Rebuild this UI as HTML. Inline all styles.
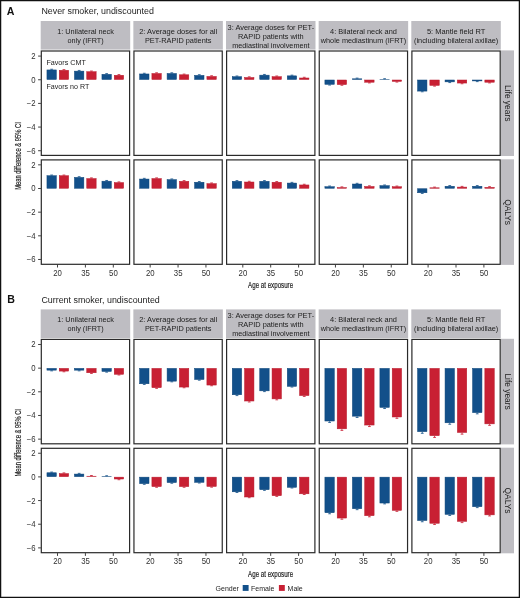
<!DOCTYPE html>
<html><head><meta charset="utf-8"><style>
html,body{margin:0;padding:0;background:#fff;}
svg{display:block;will-change:transform;}
text{font-family:"Liberation Sans", sans-serif;}
</style></head><body>
<svg width="520" height="598" viewBox="0 0 520 598">
<rect width="520" height="598" fill="#fff"/>
<text x="6.8" y="14.80" font-weight="bold" font-size="10.6" fill="#111">A</text>
<text x="41.4" y="14.10" font-size="8.9" fill="#1c1c1c">Never smoker, undiscounted</text>
<rect x="40.70" y="21.00" width="89.50" height="28.60" fill="#bebdc2"/>
<text x="85.55" y="33.95" font-size="7.45" fill="#1c1c1c" text-anchor="middle" textLength="56.8" lengthAdjust="spacingAndGlyphs">1: Unilateral neck</text>
<text x="85.55" y="42.85" font-size="7.45" fill="#1c1c1c" text-anchor="middle" textLength="36.1" lengthAdjust="spacingAndGlyphs">only (IFRT)</text>
<rect x="133.35" y="21.00" width="89.50" height="28.60" fill="#bebdc2"/>
<text x="178.20" y="33.95" font-size="7.45" fill="#1c1c1c" text-anchor="middle" textLength="78.0" lengthAdjust="spacingAndGlyphs">2: Average doses for all</text>
<text x="178.20" y="42.85" font-size="7.45" fill="#1c1c1c" text-anchor="middle" textLength="66.6" lengthAdjust="spacingAndGlyphs">PET-RAPID patients</text>
<rect x="226.00" y="21.00" width="89.50" height="28.60" fill="#bebdc2"/>
<text x="270.85" y="29.80" font-size="7.45" fill="#1c1c1c" text-anchor="middle" textLength="86.6" lengthAdjust="spacingAndGlyphs">3: Average doses for PET-</text>
<text x="270.85" y="38.70" font-size="7.45" fill="#1c1c1c" text-anchor="middle" textLength="65.6" lengthAdjust="spacingAndGlyphs">RAPID patients with</text>
<text x="270.85" y="47.60" font-size="7.45" fill="#1c1c1c" text-anchor="middle" textLength="77.3" lengthAdjust="spacingAndGlyphs">mediastinal involvement</text>
<rect x="318.65" y="21.00" width="89.50" height="28.60" fill="#bebdc2"/>
<text x="363.50" y="33.95" font-size="7.45" fill="#1c1c1c" text-anchor="middle" textLength="66.8" lengthAdjust="spacingAndGlyphs">4: Bilateral neck and</text>
<text x="363.50" y="42.85" font-size="7.45" fill="#1c1c1c" text-anchor="middle" textLength="85.4" lengthAdjust="spacingAndGlyphs">whole mediastinum (IFRT)</text>
<rect x="411.30" y="21.00" width="89.50" height="28.60" fill="#bebdc2"/>
<text x="456.15" y="33.95" font-size="7.45" fill="#1c1c1c" text-anchor="middle" textLength="58.5" lengthAdjust="spacingAndGlyphs">5: Mantle field RT</text>
<text x="456.15" y="42.85" font-size="7.45" fill="#1c1c1c" text-anchor="middle" textLength="84.2" lengthAdjust="spacingAndGlyphs">(including bilateral axillae)</text>
<rect x="501.0" y="50.40" width="13.0" height="105.60" fill="#bebdc2"/>
<text transform="translate(504.6,103.20) rotate(90)" x="0" y="0" font-size="8.4" fill="#1c1c1c" text-anchor="middle">Life years</text>
<rect x="41.30" y="51.00" width="88.30" height="104.40" fill="#fff" stroke="#2a2a2a" stroke-width="1.2"/>
<rect x="46.95" y="69.94" width="9.40" height="9.56" fill="#12508a" stroke="#0c4478" stroke-width="0.5"/>
<path d="M51.65 69.69V69.24M50.25 69.24H53.05" stroke="#12508a" stroke-width="0.8" fill="none"/>
<rect x="59.25" y="70.30" width="9.40" height="9.20" fill="#c82033" stroke="#b81a2c" stroke-width="0.5"/>
<path d="M63.95 70.05V69.60M62.55 69.60H65.35" stroke="#c82033" stroke-width="0.8" fill="none"/>
<rect x="74.45" y="71.13" width="9.40" height="8.37" fill="#12508a" stroke="#0c4478" stroke-width="0.5"/>
<path d="M79.15 70.88V70.43M77.75 70.43H80.55" stroke="#12508a" stroke-width="0.8" fill="none"/>
<rect x="86.75" y="71.72" width="9.40" height="7.78" fill="#c82033" stroke="#b81a2c" stroke-width="0.5"/>
<path d="M91.45 71.47V71.02M90.05 71.02H92.85" stroke="#c82033" stroke-width="0.8" fill="none"/>
<rect x="101.95" y="74.32" width="9.40" height="5.18" fill="#12508a" stroke="#0c4478" stroke-width="0.5"/>
<path d="M106.65 74.07V73.62M105.25 73.62H108.05" stroke="#12508a" stroke-width="0.8" fill="none"/>
<rect x="114.25" y="75.27" width="9.40" height="4.23" fill="#c82033" stroke="#b81a2c" stroke-width="0.5"/>
<path d="M118.95 75.02V74.57M117.55 74.57H120.35" stroke="#c82033" stroke-width="0.8" fill="none"/>
<path d="M38.1 56.09H40.90" stroke="#2a2a2a" stroke-width="0.9"/>
<text transform="translate(35.6,59.04) scale(0.94,1)" font-size="8.3" fill="#303030" text-anchor="end">2</text>
<path d="M38.1 79.75H40.90" stroke="#2a2a2a" stroke-width="0.9"/>
<text transform="translate(35.6,82.70) scale(0.94,1)" font-size="8.3" fill="#303030" text-anchor="end">0</text>
<path d="M38.1 103.41H40.90" stroke="#2a2a2a" stroke-width="0.9"/>
<text transform="translate(35.6,106.36) scale(0.94,1)" font-size="8.3" fill="#303030" text-anchor="end">−2</text>
<path d="M38.1 127.07H40.90" stroke="#2a2a2a" stroke-width="0.9"/>
<text transform="translate(35.6,130.02) scale(0.94,1)" font-size="8.3" fill="#303030" text-anchor="end">−4</text>
<path d="M38.1 150.73H40.90" stroke="#2a2a2a" stroke-width="0.9"/>
<text transform="translate(35.6,153.68) scale(0.94,1)" font-size="8.3" fill="#303030" text-anchor="end">−6</text>
<rect x="133.95" y="51.00" width="88.30" height="104.40" fill="#fff" stroke="#2a2a2a" stroke-width="1.2"/>
<rect x="139.60" y="73.97" width="9.40" height="5.53" fill="#12508a" stroke="#0c4478" stroke-width="0.5"/>
<path d="M144.30 73.72V73.27M142.90 73.27H145.70" stroke="#12508a" stroke-width="0.8" fill="none"/>
<rect x="151.90" y="73.49" width="9.40" height="6.01" fill="#c82033" stroke="#b81a2c" stroke-width="0.5"/>
<path d="M156.60 73.24V72.79M155.20 72.79H158.00" stroke="#c82033" stroke-width="0.8" fill="none"/>
<rect x="167.10" y="73.49" width="9.40" height="6.01" fill="#12508a" stroke="#0c4478" stroke-width="0.5"/>
<path d="M171.80 73.24V72.79M170.40 72.79H173.20" stroke="#12508a" stroke-width="0.8" fill="none"/>
<rect x="179.40" y="74.79" width="9.40" height="4.71" fill="#c82033" stroke="#b81a2c" stroke-width="0.5"/>
<path d="M184.10 74.54V74.09M182.70 74.09H185.50" stroke="#c82033" stroke-width="0.8" fill="none"/>
<rect x="194.60" y="75.39" width="9.40" height="4.11" fill="#12508a" stroke="#0c4478" stroke-width="0.5"/>
<path d="M199.30 75.14V74.69M197.90 74.69H200.70" stroke="#12508a" stroke-width="0.8" fill="none"/>
<rect x="206.90" y="76.45" width="9.40" height="3.05" fill="#c82033" stroke="#b81a2c" stroke-width="0.5"/>
<path d="M211.60 76.20V75.75M210.20 75.75H213.00" stroke="#c82033" stroke-width="0.8" fill="none"/>
<rect x="226.60" y="51.00" width="88.30" height="104.40" fill="#fff" stroke="#2a2a2a" stroke-width="1.2"/>
<rect x="232.25" y="76.69" width="9.40" height="2.81" fill="#12508a" stroke="#0c4478" stroke-width="0.5"/>
<path d="M236.95 76.44V75.99M235.55 75.99H238.35" stroke="#12508a" stroke-width="0.8" fill="none"/>
<rect x="244.55" y="77.52" width="9.40" height="1.98" fill="#c82033" stroke="#b81a2c" stroke-width="0.5"/>
<path d="M249.25 77.27V76.82M247.85 76.82H250.65" stroke="#c82033" stroke-width="0.8" fill="none"/>
<rect x="259.75" y="75.15" width="9.40" height="4.35" fill="#12508a" stroke="#0c4478" stroke-width="0.5"/>
<path d="M264.45 74.90V74.45M263.05 74.45H265.85" stroke="#12508a" stroke-width="0.8" fill="none"/>
<rect x="272.05" y="76.69" width="9.40" height="2.81" fill="#c82033" stroke="#b81a2c" stroke-width="0.5"/>
<path d="M276.75 76.44V75.99M275.35 75.99H278.15" stroke="#c82033" stroke-width="0.8" fill="none"/>
<rect x="287.25" y="75.86" width="9.40" height="3.64" fill="#12508a" stroke="#0c4478" stroke-width="0.5"/>
<path d="M291.95 75.61V75.16M290.55 75.16H293.35" stroke="#12508a" stroke-width="0.8" fill="none"/>
<rect x="299.55" y="77.99" width="9.40" height="1.51" fill="#c82033" stroke="#b81a2c" stroke-width="0.5"/>
<path d="M304.25 77.74V77.29M302.85 77.29H305.65" stroke="#c82033" stroke-width="0.8" fill="none"/>
<rect x="319.25" y="51.00" width="88.30" height="104.40" fill="#fff" stroke="#2a2a2a" stroke-width="1.2"/>
<rect x="324.90" y="80.00" width="9.40" height="4.35" fill="#12508a" stroke="#0c4478" stroke-width="0.5"/>
<path d="M329.60 84.60V85.05M328.20 85.05H331.00" stroke="#12508a" stroke-width="0.8" fill="none"/>
<rect x="337.20" y="80.00" width="9.40" height="4.59" fill="#c82033" stroke="#b81a2c" stroke-width="0.5"/>
<path d="M341.90 84.84V85.29M340.50 85.29H343.30" stroke="#c82033" stroke-width="0.8" fill="none"/>
<rect x="352.40" y="78.82" width="9.40" height="0.68" fill="#12508a" stroke="#0c4478" stroke-width="0.5"/>
<path d="M357.10 78.57V78.12M355.70 78.12H358.50" stroke="#12508a" stroke-width="0.8" fill="none"/>
<rect x="364.70" y="80.00" width="9.40" height="2.22" fill="#c82033" stroke="#b81a2c" stroke-width="0.5"/>
<path d="M369.40 82.47V82.92M368.00 82.92H370.80" stroke="#c82033" stroke-width="0.8" fill="none"/>
<rect x="379.90" y="79.41" width="9.40" height="0.10" fill="#12508a" stroke="#0c4478" stroke-width="0.5"/>
<path d="M384.60 79.16V78.71M383.20 78.71H386.00" stroke="#12508a" stroke-width="0.8" fill="none"/>
<rect x="392.20" y="80.00" width="9.40" height="1.39" fill="#c82033" stroke="#b81a2c" stroke-width="0.5"/>
<path d="M396.90 81.64V82.09M395.50 82.09H398.30" stroke="#c82033" stroke-width="0.8" fill="none"/>
<rect x="411.90" y="51.00" width="88.30" height="104.40" fill="#fff" stroke="#2a2a2a" stroke-width="1.2"/>
<rect x="417.55" y="80.00" width="9.40" height="11.09" fill="#12508a" stroke="#0c4478" stroke-width="0.5"/>
<path d="M422.25 91.34V91.79M420.85 91.79H423.65" stroke="#12508a" stroke-width="0.8" fill="none"/>
<rect x="429.85" y="80.00" width="9.40" height="5.42" fill="#c82033" stroke="#b81a2c" stroke-width="0.5"/>
<path d="M434.55 85.67V86.12M433.15 86.12H435.95" stroke="#c82033" stroke-width="0.8" fill="none"/>
<rect x="445.05" y="80.00" width="9.40" height="1.87" fill="#12508a" stroke="#0c4478" stroke-width="0.5"/>
<path d="M449.75 82.12V82.57M448.35 82.57H451.15" stroke="#12508a" stroke-width="0.8" fill="none"/>
<rect x="457.35" y="80.00" width="9.40" height="3.05" fill="#c82033" stroke="#b81a2c" stroke-width="0.5"/>
<path d="M462.05 83.30V83.75M460.65 83.75H463.45" stroke="#c82033" stroke-width="0.8" fill="none"/>
<rect x="472.55" y="80.00" width="9.40" height="0.92" fill="#12508a" stroke="#0c4478" stroke-width="0.5"/>
<path d="M477.25 81.17V81.62M475.85 81.62H478.65" stroke="#12508a" stroke-width="0.8" fill="none"/>
<rect x="484.85" y="80.00" width="9.40" height="2.22" fill="#c82033" stroke="#b81a2c" stroke-width="0.5"/>
<path d="M489.55 82.47V82.92M488.15 82.92H490.95" stroke="#c82033" stroke-width="0.8" fill="none"/>
<rect x="501.0" y="159.30" width="13.0" height="105.60" fill="#bebdc2"/>
<text transform="translate(504.6,212.10) rotate(90)" x="0" y="0" font-size="8.4" fill="#1c1c1c" text-anchor="middle">QALYs</text>
<rect x="41.30" y="159.90" width="88.30" height="104.40" fill="#fff" stroke="#2a2a2a" stroke-width="1.2"/>
<rect x="46.95" y="175.74" width="9.40" height="12.51" fill="#12508a" stroke="#0c4478" stroke-width="0.5"/>
<path d="M51.65 175.49V175.04M50.25 175.04H53.05" stroke="#12508a" stroke-width="0.8" fill="none"/>
<rect x="59.25" y="175.74" width="9.40" height="12.51" fill="#c82033" stroke="#b81a2c" stroke-width="0.5"/>
<path d="M63.95 175.49V175.04M62.55 175.04H65.35" stroke="#c82033" stroke-width="0.8" fill="none"/>
<rect x="74.45" y="177.39" width="9.40" height="10.86" fill="#12508a" stroke="#0c4478" stroke-width="0.5"/>
<path d="M79.15 177.14V176.69M77.75 176.69H80.55" stroke="#12508a" stroke-width="0.8" fill="none"/>
<rect x="86.75" y="178.58" width="9.40" height="9.67" fill="#c82033" stroke="#b81a2c" stroke-width="0.5"/>
<path d="M91.45 178.33V177.88M90.05 177.88H92.85" stroke="#c82033" stroke-width="0.8" fill="none"/>
<rect x="101.95" y="181.18" width="9.40" height="7.07" fill="#12508a" stroke="#0c4478" stroke-width="0.5"/>
<path d="M106.65 180.93V180.48M105.25 180.48H108.05" stroke="#12508a" stroke-width="0.8" fill="none"/>
<rect x="114.25" y="182.60" width="9.40" height="5.65" fill="#c82033" stroke="#b81a2c" stroke-width="0.5"/>
<path d="M118.95 182.35V181.90M117.55 181.90H120.35" stroke="#c82033" stroke-width="0.8" fill="none"/>
<path d="M38.1 164.84H40.90" stroke="#2a2a2a" stroke-width="0.9"/>
<text transform="translate(35.6,167.79) scale(0.94,1)" font-size="8.3" fill="#303030" text-anchor="end">2</text>
<path d="M38.1 188.50H40.90" stroke="#2a2a2a" stroke-width="0.9"/>
<text transform="translate(35.6,191.45) scale(0.94,1)" font-size="8.3" fill="#303030" text-anchor="end">0</text>
<path d="M38.1 212.16H40.90" stroke="#2a2a2a" stroke-width="0.9"/>
<text transform="translate(35.6,215.11) scale(0.94,1)" font-size="8.3" fill="#303030" text-anchor="end">−2</text>
<path d="M38.1 235.82H40.90" stroke="#2a2a2a" stroke-width="0.9"/>
<text transform="translate(35.6,238.77) scale(0.94,1)" font-size="8.3" fill="#303030" text-anchor="end">−4</text>
<path d="M38.1 259.48H40.90" stroke="#2a2a2a" stroke-width="0.9"/>
<text transform="translate(35.6,262.43) scale(0.94,1)" font-size="8.3" fill="#303030" text-anchor="end">−6</text>
<path d="M57.50 264.70V267.50" stroke="#2a2a2a" stroke-width="0.9"/>
<text transform="translate(57.60,275.90) scale(0.94,1)" font-size="8.3" fill="#303030" text-anchor="middle">20</text>
<path d="M85.40 264.70V267.50" stroke="#2a2a2a" stroke-width="0.9"/>
<text transform="translate(85.50,275.90) scale(0.94,1)" font-size="8.3" fill="#303030" text-anchor="middle">35</text>
<path d="M113.30 264.70V267.50" stroke="#2a2a2a" stroke-width="0.9"/>
<text transform="translate(113.40,275.90) scale(0.94,1)" font-size="8.3" fill="#303030" text-anchor="middle">50</text>
<rect x="133.95" y="159.90" width="88.30" height="104.40" fill="#fff" stroke="#2a2a2a" stroke-width="1.2"/>
<rect x="139.60" y="179.05" width="9.40" height="9.20" fill="#12508a" stroke="#0c4478" stroke-width="0.5"/>
<path d="M144.30 178.80V178.35M142.90 178.35H145.70" stroke="#12508a" stroke-width="0.8" fill="none"/>
<rect x="151.90" y="178.58" width="9.40" height="9.67" fill="#c82033" stroke="#b81a2c" stroke-width="0.5"/>
<path d="M156.60 178.33V177.88M155.20 177.88H158.00" stroke="#c82033" stroke-width="0.8" fill="none"/>
<rect x="167.10" y="179.64" width="9.40" height="8.61" fill="#12508a" stroke="#0c4478" stroke-width="0.5"/>
<path d="M171.80 179.39V178.94M170.40 178.94H173.20" stroke="#12508a" stroke-width="0.8" fill="none"/>
<rect x="179.40" y="181.30" width="9.40" height="6.95" fill="#c82033" stroke="#b81a2c" stroke-width="0.5"/>
<path d="M184.10 181.05V180.60M182.70 180.60H185.50" stroke="#c82033" stroke-width="0.8" fill="none"/>
<rect x="194.60" y="182.24" width="9.40" height="6.01" fill="#12508a" stroke="#0c4478" stroke-width="0.5"/>
<path d="M199.30 181.99V181.54M197.90 181.54H200.70" stroke="#12508a" stroke-width="0.8" fill="none"/>
<rect x="206.90" y="183.66" width="9.40" height="4.59" fill="#c82033" stroke="#b81a2c" stroke-width="0.5"/>
<path d="M211.60 183.41V182.96M210.20 182.96H213.00" stroke="#c82033" stroke-width="0.8" fill="none"/>
<path d="M150.15 264.70V267.50" stroke="#2a2a2a" stroke-width="0.9"/>
<text transform="translate(150.25,275.90) scale(0.94,1)" font-size="8.3" fill="#303030" text-anchor="middle">20</text>
<path d="M178.05 264.70V267.50" stroke="#2a2a2a" stroke-width="0.9"/>
<text transform="translate(178.15,275.90) scale(0.94,1)" font-size="8.3" fill="#303030" text-anchor="middle">35</text>
<path d="M205.95 264.70V267.50" stroke="#2a2a2a" stroke-width="0.9"/>
<text transform="translate(206.05,275.90) scale(0.94,1)" font-size="8.3" fill="#303030" text-anchor="middle">50</text>
<rect x="226.60" y="159.90" width="88.30" height="104.40" fill="#fff" stroke="#2a2a2a" stroke-width="1.2"/>
<rect x="232.25" y="181.30" width="9.40" height="6.95" fill="#12508a" stroke="#0c4478" stroke-width="0.5"/>
<path d="M236.95 181.05V180.60M235.55 180.60H238.35" stroke="#12508a" stroke-width="0.8" fill="none"/>
<rect x="244.55" y="182.01" width="9.40" height="6.24" fill="#c82033" stroke="#b81a2c" stroke-width="0.5"/>
<path d="M249.25 181.76V181.31M247.85 181.31H250.65" stroke="#c82033" stroke-width="0.8" fill="none"/>
<rect x="259.75" y="181.30" width="9.40" height="6.95" fill="#12508a" stroke="#0c4478" stroke-width="0.5"/>
<path d="M264.45 181.05V180.60M263.05 180.60H265.85" stroke="#12508a" stroke-width="0.8" fill="none"/>
<rect x="272.05" y="182.24" width="9.40" height="6.01" fill="#c82033" stroke="#b81a2c" stroke-width="0.5"/>
<path d="M276.75 181.99V181.54M275.35 181.54H278.15" stroke="#c82033" stroke-width="0.8" fill="none"/>
<rect x="287.25" y="183.07" width="9.40" height="5.18" fill="#12508a" stroke="#0c4478" stroke-width="0.5"/>
<path d="M291.95 182.82V182.37M290.55 182.37H293.35" stroke="#12508a" stroke-width="0.8" fill="none"/>
<rect x="299.55" y="184.96" width="9.40" height="3.29" fill="#c82033" stroke="#b81a2c" stroke-width="0.5"/>
<path d="M304.25 184.71V184.26M302.85 184.26H305.65" stroke="#c82033" stroke-width="0.8" fill="none"/>
<path d="M242.80 264.70V267.50" stroke="#2a2a2a" stroke-width="0.9"/>
<text transform="translate(242.90,275.90) scale(0.94,1)" font-size="8.3" fill="#303030" text-anchor="middle">20</text>
<path d="M270.70 264.70V267.50" stroke="#2a2a2a" stroke-width="0.9"/>
<text transform="translate(270.80,275.90) scale(0.94,1)" font-size="8.3" fill="#303030" text-anchor="middle">35</text>
<path d="M298.60 264.70V267.50" stroke="#2a2a2a" stroke-width="0.9"/>
<text transform="translate(298.70,275.90) scale(0.94,1)" font-size="8.3" fill="#303030" text-anchor="middle">50</text>
<rect x="319.25" y="159.90" width="88.30" height="104.40" fill="#fff" stroke="#2a2a2a" stroke-width="1.2"/>
<rect x="324.90" y="186.74" width="9.40" height="1.51" fill="#12508a" stroke="#0c4478" stroke-width="0.5"/>
<path d="M329.60 186.49V186.04M328.20 186.04H331.00" stroke="#12508a" stroke-width="0.8" fill="none"/>
<rect x="337.20" y="187.57" width="9.40" height="0.68" fill="#c82033" stroke="#b81a2c" stroke-width="0.5"/>
<path d="M341.90 187.32V186.87M340.50 186.87H343.30" stroke="#c82033" stroke-width="0.8" fill="none"/>
<rect x="352.40" y="184.02" width="9.40" height="4.23" fill="#12508a" stroke="#0c4478" stroke-width="0.5"/>
<path d="M357.10 183.77V183.32M355.70 183.32H358.50" stroke="#12508a" stroke-width="0.8" fill="none"/>
<rect x="364.70" y="186.50" width="9.40" height="1.75" fill="#c82033" stroke="#b81a2c" stroke-width="0.5"/>
<path d="M369.40 186.25V185.80M368.00 185.80H370.80" stroke="#c82033" stroke-width="0.8" fill="none"/>
<rect x="379.90" y="185.67" width="9.40" height="2.58" fill="#12508a" stroke="#0c4478" stroke-width="0.5"/>
<path d="M384.60 185.42V184.97M383.20 184.97H386.00" stroke="#12508a" stroke-width="0.8" fill="none"/>
<rect x="392.20" y="186.74" width="9.40" height="1.51" fill="#c82033" stroke="#b81a2c" stroke-width="0.5"/>
<path d="M396.90 186.49V186.04M395.50 186.04H398.30" stroke="#c82033" stroke-width="0.8" fill="none"/>
<path d="M335.45 264.70V267.50" stroke="#2a2a2a" stroke-width="0.9"/>
<text transform="translate(335.55,275.90) scale(0.94,1)" font-size="8.3" fill="#303030" text-anchor="middle">20</text>
<path d="M363.35 264.70V267.50" stroke="#2a2a2a" stroke-width="0.9"/>
<text transform="translate(363.45,275.90) scale(0.94,1)" font-size="8.3" fill="#303030" text-anchor="middle">35</text>
<path d="M391.25 264.70V267.50" stroke="#2a2a2a" stroke-width="0.9"/>
<text transform="translate(391.35,275.90) scale(0.94,1)" font-size="8.3" fill="#303030" text-anchor="middle">50</text>
<rect x="411.90" y="159.90" width="88.30" height="104.40" fill="#fff" stroke="#2a2a2a" stroke-width="1.2"/>
<rect x="417.55" y="188.75" width="9.40" height="4.00" fill="#12508a" stroke="#0c4478" stroke-width="0.5"/>
<path d="M422.25 193.00V193.45M420.85 193.45H423.65" stroke="#12508a" stroke-width="0.8" fill="none"/>
<rect x="429.85" y="187.80" width="9.40" height="0.45" fill="#c82033" stroke="#b81a2c" stroke-width="0.5"/>
<path d="M434.55 187.55V187.10M433.15 187.10H435.95" stroke="#c82033" stroke-width="0.8" fill="none"/>
<rect x="445.05" y="186.27" width="9.40" height="1.98" fill="#12508a" stroke="#0c4478" stroke-width="0.5"/>
<path d="M449.75 186.02V185.57M448.35 185.57H451.15" stroke="#12508a" stroke-width="0.8" fill="none"/>
<rect x="457.35" y="187.09" width="9.40" height="1.16" fill="#c82033" stroke="#b81a2c" stroke-width="0.5"/>
<path d="M462.05 186.84V186.39M460.65 186.39H463.45" stroke="#c82033" stroke-width="0.8" fill="none"/>
<rect x="472.55" y="186.27" width="9.40" height="1.98" fill="#12508a" stroke="#0c4478" stroke-width="0.5"/>
<path d="M477.25 186.02V185.57M475.85 185.57H478.65" stroke="#12508a" stroke-width="0.8" fill="none"/>
<rect x="484.85" y="187.33" width="9.40" height="0.92" fill="#c82033" stroke="#b81a2c" stroke-width="0.5"/>
<path d="M489.55 187.08V186.63M488.15 186.63H490.95" stroke="#c82033" stroke-width="0.8" fill="none"/>
<path d="M428.10 264.70V267.50" stroke="#2a2a2a" stroke-width="0.9"/>
<text transform="translate(428.20,275.90) scale(0.94,1)" font-size="8.3" fill="#303030" text-anchor="middle">20</text>
<path d="M456.00 264.70V267.50" stroke="#2a2a2a" stroke-width="0.9"/>
<text transform="translate(456.10,275.90) scale(0.94,1)" font-size="8.3" fill="#303030" text-anchor="middle">35</text>
<path d="M483.90 264.70V267.50" stroke="#2a2a2a" stroke-width="0.9"/>
<text transform="translate(484.00,275.90) scale(0.94,1)" font-size="8.3" fill="#303030" text-anchor="middle">50</text>
<text x="270.6" y="288.30" font-size="8.5" fill="#1c1c1c" stroke="#1c1c1c" stroke-width="0.18" text-anchor="middle" textLength="45" lengthAdjust="spacingAndGlyphs">Age at exposure</text>
<text transform="translate(20.7,156.00) rotate(-90)" font-size="8.4" fill="#1c1c1c" stroke="#1c1c1c" stroke-width="0.18" text-anchor="middle" textLength="67.5" lengthAdjust="spacingAndGlyphs">Mean difference &amp; 95% CI</text>
<text x="46.4" y="65.4" font-size="7.2" fill="#1c1c1c">Favors CMT</text>
<text x="46.4" y="89.3" font-size="7.1" fill="#1c1c1c">Favors no RT</text>
<text x="7.3" y="303.20" font-weight="bold" font-size="10.6" fill="#111">B</text>
<text x="41.4" y="302.50" font-size="8.9" fill="#1c1c1c">Current smoker, undiscounted</text>
<rect x="40.70" y="309.40" width="89.50" height="28.60" fill="#bebdc2"/>
<text x="85.55" y="322.35" font-size="7.45" fill="#1c1c1c" text-anchor="middle" textLength="56.8" lengthAdjust="spacingAndGlyphs">1: Unilateral neck</text>
<text x="85.55" y="331.25" font-size="7.45" fill="#1c1c1c" text-anchor="middle" textLength="36.1" lengthAdjust="spacingAndGlyphs">only (IFRT)</text>
<rect x="133.35" y="309.40" width="89.50" height="28.60" fill="#bebdc2"/>
<text x="178.20" y="322.35" font-size="7.45" fill="#1c1c1c" text-anchor="middle" textLength="78.0" lengthAdjust="spacingAndGlyphs">2: Average doses for all</text>
<text x="178.20" y="331.25" font-size="7.45" fill="#1c1c1c" text-anchor="middle" textLength="66.6" lengthAdjust="spacingAndGlyphs">PET-RAPID patients</text>
<rect x="226.00" y="309.40" width="89.50" height="28.60" fill="#bebdc2"/>
<text x="270.85" y="318.20" font-size="7.45" fill="#1c1c1c" text-anchor="middle" textLength="86.6" lengthAdjust="spacingAndGlyphs">3: Average doses for PET-</text>
<text x="270.85" y="327.10" font-size="7.45" fill="#1c1c1c" text-anchor="middle" textLength="65.6" lengthAdjust="spacingAndGlyphs">RAPID patients with</text>
<text x="270.85" y="336.00" font-size="7.45" fill="#1c1c1c" text-anchor="middle" textLength="77.3" lengthAdjust="spacingAndGlyphs">mediastinal involvement</text>
<rect x="318.65" y="309.40" width="89.50" height="28.60" fill="#bebdc2"/>
<text x="363.50" y="322.35" font-size="7.45" fill="#1c1c1c" text-anchor="middle" textLength="66.8" lengthAdjust="spacingAndGlyphs">4: Bilateral neck and</text>
<text x="363.50" y="331.25" font-size="7.45" fill="#1c1c1c" text-anchor="middle" textLength="85.4" lengthAdjust="spacingAndGlyphs">whole mediastinum (IFRT)</text>
<rect x="411.30" y="309.40" width="89.50" height="28.60" fill="#bebdc2"/>
<text x="456.15" y="322.35" font-size="7.45" fill="#1c1c1c" text-anchor="middle" textLength="58.5" lengthAdjust="spacingAndGlyphs">5: Mantle field RT</text>
<text x="456.15" y="331.25" font-size="7.45" fill="#1c1c1c" text-anchor="middle" textLength="84.2" lengthAdjust="spacingAndGlyphs">(including bilateral axillae)</text>
<rect x="501.0" y="338.80" width="13.0" height="105.60" fill="#bebdc2"/>
<text transform="translate(504.6,391.60) rotate(90)" x="0" y="0" font-size="8.4" fill="#1c1c1c" text-anchor="middle">Life years</text>
<rect x="41.30" y="339.40" width="88.30" height="104.40" fill="#fff" stroke="#2a2a2a" stroke-width="1.2"/>
<rect x="46.95" y="368.40" width="9.40" height="1.75" fill="#12508a" stroke="#0c4478" stroke-width="0.5"/>
<path d="M51.65 370.40V370.85M50.25 370.85H53.05" stroke="#12508a" stroke-width="0.8" fill="none"/>
<rect x="59.25" y="368.40" width="9.40" height="2.69" fill="#c82033" stroke="#b81a2c" stroke-width="0.5"/>
<path d="M63.95 371.34V371.79M62.55 371.79H65.35" stroke="#c82033" stroke-width="0.8" fill="none"/>
<rect x="74.45" y="368.40" width="9.40" height="1.75" fill="#12508a" stroke="#0c4478" stroke-width="0.5"/>
<path d="M79.15 370.40V370.85M77.75 370.85H80.55" stroke="#12508a" stroke-width="0.8" fill="none"/>
<rect x="86.75" y="368.40" width="9.40" height="4.35" fill="#c82033" stroke="#b81a2c" stroke-width="0.5"/>
<path d="M91.45 373.00V373.45M90.05 373.45H92.85" stroke="#c82033" stroke-width="0.8" fill="none"/>
<rect x="101.95" y="368.40" width="9.40" height="3.05" fill="#12508a" stroke="#0c4478" stroke-width="0.5"/>
<path d="M106.65 371.70V372.15M105.25 372.15H108.05" stroke="#12508a" stroke-width="0.8" fill="none"/>
<rect x="114.25" y="368.40" width="9.40" height="5.89" fill="#c82033" stroke="#b81a2c" stroke-width="0.5"/>
<path d="M118.95 374.54V374.99M117.55 374.99H120.35" stroke="#c82033" stroke-width="0.8" fill="none"/>
<path d="M38.1 344.49H40.90" stroke="#2a2a2a" stroke-width="0.9"/>
<text transform="translate(35.6,347.44) scale(0.94,1)" font-size="8.3" fill="#303030" text-anchor="end">2</text>
<path d="M38.1 368.15H40.90" stroke="#2a2a2a" stroke-width="0.9"/>
<text transform="translate(35.6,371.10) scale(0.94,1)" font-size="8.3" fill="#303030" text-anchor="end">0</text>
<path d="M38.1 391.81H40.90" stroke="#2a2a2a" stroke-width="0.9"/>
<text transform="translate(35.6,394.76) scale(0.94,1)" font-size="8.3" fill="#303030" text-anchor="end">−2</text>
<path d="M38.1 415.47H40.90" stroke="#2a2a2a" stroke-width="0.9"/>
<text transform="translate(35.6,418.42) scale(0.94,1)" font-size="8.3" fill="#303030" text-anchor="end">−4</text>
<path d="M38.1 439.13H40.90" stroke="#2a2a2a" stroke-width="0.9"/>
<text transform="translate(35.6,442.08) scale(0.94,1)" font-size="8.3" fill="#303030" text-anchor="end">−6</text>
<rect x="133.95" y="339.40" width="88.30" height="104.40" fill="#fff" stroke="#2a2a2a" stroke-width="1.2"/>
<rect x="139.60" y="368.40" width="9.40" height="15.35" fill="#12508a" stroke="#0c4478" stroke-width="0.5"/>
<path d="M144.30 384.00V384.45M142.90 384.45H145.70" stroke="#12508a" stroke-width="0.8" fill="none"/>
<rect x="151.90" y="368.40" width="9.40" height="19.26" fill="#c82033" stroke="#b81a2c" stroke-width="0.5"/>
<path d="M156.60 387.91V388.36M155.20 388.36H158.00" stroke="#c82033" stroke-width="0.8" fill="none"/>
<rect x="167.10" y="368.40" width="9.40" height="12.75" fill="#12508a" stroke="#0c4478" stroke-width="0.5"/>
<path d="M171.80 381.40V381.85M170.40 381.85H173.20" stroke="#12508a" stroke-width="0.8" fill="none"/>
<rect x="179.40" y="368.40" width="9.40" height="18.66" fill="#c82033" stroke="#b81a2c" stroke-width="0.5"/>
<path d="M184.10 387.31V387.76M182.70 387.76H185.50" stroke="#c82033" stroke-width="0.8" fill="none"/>
<rect x="194.60" y="368.40" width="9.40" height="11.09" fill="#12508a" stroke="#0c4478" stroke-width="0.5"/>
<path d="M199.30 379.74V380.19M197.90 380.19H200.70" stroke="#12508a" stroke-width="0.8" fill="none"/>
<rect x="206.90" y="368.40" width="9.40" height="16.65" fill="#c82033" stroke="#b81a2c" stroke-width="0.5"/>
<path d="M211.60 385.30V385.75M210.20 385.75H213.00" stroke="#c82033" stroke-width="0.8" fill="none"/>
<rect x="226.60" y="339.40" width="88.30" height="104.40" fill="#fff" stroke="#2a2a2a" stroke-width="1.2"/>
<rect x="232.25" y="368.40" width="9.40" height="26.35" fill="#12508a" stroke="#0c4478" stroke-width="0.5"/>
<path d="M236.95 395.00V395.59M235.55 395.59H238.35" stroke="#12508a" stroke-width="0.8" fill="none"/>
<rect x="244.55" y="368.40" width="9.40" height="32.62" fill="#c82033" stroke="#b81a2c" stroke-width="0.5"/>
<path d="M249.25 401.27V402.00M247.85 402.00H250.65" stroke="#c82033" stroke-width="0.8" fill="none"/>
<rect x="259.75" y="368.40" width="9.40" height="22.45" fill="#12508a" stroke="#0c4478" stroke-width="0.5"/>
<path d="M264.45 391.10V391.60M263.05 391.60H265.85" stroke="#12508a" stroke-width="0.8" fill="none"/>
<rect x="272.05" y="368.40" width="9.40" height="30.49" fill="#c82033" stroke="#b81a2c" stroke-width="0.5"/>
<path d="M276.75 399.14V399.83M275.35 399.83H278.15" stroke="#c82033" stroke-width="0.8" fill="none"/>
<rect x="287.25" y="368.40" width="9.40" height="17.95" fill="#12508a" stroke="#0c4478" stroke-width="0.5"/>
<path d="M291.95 386.60V387.05M290.55 387.05H293.35" stroke="#12508a" stroke-width="0.8" fill="none"/>
<rect x="299.55" y="368.40" width="9.40" height="27.18" fill="#c82033" stroke="#b81a2c" stroke-width="0.5"/>
<path d="M304.25 395.83V396.44M302.85 396.44H305.65" stroke="#c82033" stroke-width="0.8" fill="none"/>
<rect x="319.25" y="339.40" width="88.30" height="104.40" fill="#fff" stroke="#2a2a2a" stroke-width="1.2"/>
<rect x="324.90" y="368.40" width="9.40" height="52.62" fill="#12508a" stroke="#0c4478" stroke-width="0.5"/>
<path d="M329.60 421.27V422.43M328.20 422.43H331.00" stroke="#12508a" stroke-width="0.8" fill="none"/>
<rect x="337.20" y="368.40" width="9.40" height="60.42" fill="#c82033" stroke="#b81a2c" stroke-width="0.5"/>
<path d="M341.90 429.07V430.41M340.50 430.41H343.30" stroke="#c82033" stroke-width="0.8" fill="none"/>
<rect x="352.40" y="368.40" width="9.40" height="47.77" fill="#12508a" stroke="#0c4478" stroke-width="0.5"/>
<path d="M357.10 416.42V417.48M355.70 417.48H358.50" stroke="#12508a" stroke-width="0.8" fill="none"/>
<rect x="364.70" y="368.40" width="9.40" height="56.64" fill="#c82033" stroke="#b81a2c" stroke-width="0.5"/>
<path d="M369.40 425.29V426.54M368.00 426.54H370.80" stroke="#c82033" stroke-width="0.8" fill="none"/>
<rect x="379.90" y="368.40" width="9.40" height="39.01" fill="#12508a" stroke="#0c4478" stroke-width="0.5"/>
<path d="M384.60 407.66V408.53M383.20 408.53H386.00" stroke="#12508a" stroke-width="0.8" fill="none"/>
<rect x="392.20" y="368.40" width="9.40" height="48.59" fill="#c82033" stroke="#b81a2c" stroke-width="0.5"/>
<path d="M396.90 417.24V418.32M395.50 418.32H398.30" stroke="#c82033" stroke-width="0.8" fill="none"/>
<rect x="411.90" y="339.40" width="88.30" height="104.40" fill="#fff" stroke="#2a2a2a" stroke-width="1.2"/>
<rect x="417.55" y="368.40" width="9.40" height="63.26" fill="#12508a" stroke="#0c4478" stroke-width="0.5"/>
<path d="M422.25 431.91V433.32M420.85 433.32H423.65" stroke="#12508a" stroke-width="0.8" fill="none"/>
<rect x="429.85" y="368.40" width="9.40" height="67.29" fill="#c82033" stroke="#b81a2c" stroke-width="0.5"/>
<path d="M434.55 435.94V437.43M433.15 437.43H435.95" stroke="#c82033" stroke-width="0.8" fill="none"/>
<rect x="445.05" y="368.40" width="9.40" height="54.39" fill="#12508a" stroke="#0c4478" stroke-width="0.5"/>
<path d="M449.75 423.04V424.25M448.35 424.25H451.15" stroke="#12508a" stroke-width="0.8" fill="none"/>
<rect x="457.35" y="368.40" width="9.40" height="64.09" fill="#c82033" stroke="#b81a2c" stroke-width="0.5"/>
<path d="M462.05 432.74V434.16M460.65 434.16H463.45" stroke="#c82033" stroke-width="0.8" fill="none"/>
<rect x="472.55" y="368.40" width="9.40" height="44.22" fill="#12508a" stroke="#0c4478" stroke-width="0.5"/>
<path d="M477.25 412.87V413.85M475.85 413.85H478.65" stroke="#12508a" stroke-width="0.8" fill="none"/>
<rect x="484.85" y="368.40" width="9.40" height="55.46" fill="#c82033" stroke="#b81a2c" stroke-width="0.5"/>
<path d="M489.55 424.11V425.34M488.15 425.34H490.95" stroke="#c82033" stroke-width="0.8" fill="none"/>
<rect x="501.0" y="447.70" width="13.0" height="105.60" fill="#bebdc2"/>
<text transform="translate(504.6,500.50) rotate(90)" x="0" y="0" font-size="8.4" fill="#1c1c1c" text-anchor="middle">QALYs</text>
<rect x="41.30" y="448.30" width="88.30" height="104.40" fill="#fff" stroke="#2a2a2a" stroke-width="1.2"/>
<rect x="46.95" y="472.77" width="9.40" height="3.88" fill="#12508a" stroke="#0c4478" stroke-width="0.5"/>
<path d="M51.65 472.52V472.07M50.25 472.07H53.05" stroke="#12508a" stroke-width="0.8" fill="none"/>
<rect x="59.25" y="473.60" width="9.40" height="3.05" fill="#c82033" stroke="#b81a2c" stroke-width="0.5"/>
<path d="M63.95 473.35V472.90M62.55 472.90H65.35" stroke="#c82033" stroke-width="0.8" fill="none"/>
<rect x="74.45" y="474.07" width="9.40" height="2.58" fill="#12508a" stroke="#0c4478" stroke-width="0.5"/>
<path d="M79.15 473.82V473.37M77.75 473.37H80.55" stroke="#12508a" stroke-width="0.8" fill="none"/>
<rect x="86.75" y="476.20" width="9.40" height="0.45" fill="#c82033" stroke="#b81a2c" stroke-width="0.5"/>
<path d="M91.45 475.95V475.50M90.05 475.50H92.85" stroke="#c82033" stroke-width="0.8" fill="none"/>
<rect x="101.95" y="476.44" width="9.40" height="0.21" fill="#12508a" stroke="#0c4478" stroke-width="0.5"/>
<path d="M106.65 476.19V475.74M105.25 475.74H108.05" stroke="#12508a" stroke-width="0.8" fill="none"/>
<rect x="114.25" y="477.15" width="9.40" height="1.87" fill="#c82033" stroke="#b81a2c" stroke-width="0.5"/>
<path d="M118.95 479.27V479.72M117.55 479.72H120.35" stroke="#c82033" stroke-width="0.8" fill="none"/>
<path d="M38.1 453.24H40.90" stroke="#2a2a2a" stroke-width="0.9"/>
<text transform="translate(35.6,456.19) scale(0.94,1)" font-size="8.3" fill="#303030" text-anchor="end">2</text>
<path d="M38.1 476.90H40.90" stroke="#2a2a2a" stroke-width="0.9"/>
<text transform="translate(35.6,479.85) scale(0.94,1)" font-size="8.3" fill="#303030" text-anchor="end">0</text>
<path d="M38.1 500.56H40.90" stroke="#2a2a2a" stroke-width="0.9"/>
<text transform="translate(35.6,503.51) scale(0.94,1)" font-size="8.3" fill="#303030" text-anchor="end">−2</text>
<path d="M38.1 524.22H40.90" stroke="#2a2a2a" stroke-width="0.9"/>
<text transform="translate(35.6,527.17) scale(0.94,1)" font-size="8.3" fill="#303030" text-anchor="end">−4</text>
<path d="M38.1 547.88H40.90" stroke="#2a2a2a" stroke-width="0.9"/>
<text transform="translate(35.6,550.83) scale(0.94,1)" font-size="8.3" fill="#303030" text-anchor="end">−6</text>
<path d="M57.50 553.10V555.90" stroke="#2a2a2a" stroke-width="0.9"/>
<text transform="translate(57.60,564.30) scale(0.94,1)" font-size="8.3" fill="#303030" text-anchor="middle">20</text>
<path d="M85.40 553.10V555.90" stroke="#2a2a2a" stroke-width="0.9"/>
<text transform="translate(85.50,564.30) scale(0.94,1)" font-size="8.3" fill="#303030" text-anchor="middle">35</text>
<path d="M113.30 553.10V555.90" stroke="#2a2a2a" stroke-width="0.9"/>
<text transform="translate(113.40,564.30) scale(0.94,1)" font-size="8.3" fill="#303030" text-anchor="middle">50</text>
<rect x="133.95" y="448.30" width="88.30" height="104.40" fill="#fff" stroke="#2a2a2a" stroke-width="1.2"/>
<rect x="139.60" y="477.15" width="9.40" height="6.48" fill="#12508a" stroke="#0c4478" stroke-width="0.5"/>
<path d="M144.30 483.88V484.33M142.90 484.33H145.70" stroke="#12508a" stroke-width="0.8" fill="none"/>
<rect x="151.90" y="477.15" width="9.40" height="9.44" fill="#c82033" stroke="#b81a2c" stroke-width="0.5"/>
<path d="M156.60 486.84V487.29M155.20 487.29H158.00" stroke="#c82033" stroke-width="0.8" fill="none"/>
<rect x="167.10" y="477.15" width="9.40" height="5.42" fill="#12508a" stroke="#0c4478" stroke-width="0.5"/>
<path d="M171.80 482.81V483.26M170.40 483.26H173.20" stroke="#12508a" stroke-width="0.8" fill="none"/>
<rect x="179.40" y="477.15" width="9.40" height="9.44" fill="#c82033" stroke="#b81a2c" stroke-width="0.5"/>
<path d="M184.10 486.84V487.29M182.70 487.29H185.50" stroke="#c82033" stroke-width="0.8" fill="none"/>
<rect x="194.60" y="477.15" width="9.40" height="5.18" fill="#12508a" stroke="#0c4478" stroke-width="0.5"/>
<path d="M199.30 482.58V483.03M197.90 483.03H200.70" stroke="#12508a" stroke-width="0.8" fill="none"/>
<rect x="206.90" y="477.15" width="9.40" height="9.32" fill="#c82033" stroke="#b81a2c" stroke-width="0.5"/>
<path d="M211.60 486.72V487.17M210.20 487.17H213.00" stroke="#c82033" stroke-width="0.8" fill="none"/>
<path d="M150.15 553.10V555.90" stroke="#2a2a2a" stroke-width="0.9"/>
<text transform="translate(150.25,564.30) scale(0.94,1)" font-size="8.3" fill="#303030" text-anchor="middle">20</text>
<path d="M178.05 553.10V555.90" stroke="#2a2a2a" stroke-width="0.9"/>
<text transform="translate(178.15,564.30) scale(0.94,1)" font-size="8.3" fill="#303030" text-anchor="middle">35</text>
<path d="M205.95 553.10V555.90" stroke="#2a2a2a" stroke-width="0.9"/>
<text transform="translate(206.05,564.30) scale(0.94,1)" font-size="8.3" fill="#303030" text-anchor="middle">50</text>
<rect x="226.60" y="448.30" width="88.30" height="104.40" fill="#fff" stroke="#2a2a2a" stroke-width="1.2"/>
<rect x="232.25" y="477.15" width="9.40" height="14.64" fill="#12508a" stroke="#0c4478" stroke-width="0.5"/>
<path d="M236.95 492.04V492.49M235.55 492.49H238.35" stroke="#12508a" stroke-width="0.8" fill="none"/>
<rect x="244.55" y="477.15" width="9.40" height="19.85" fill="#c82033" stroke="#b81a2c" stroke-width="0.5"/>
<path d="M249.25 497.25V497.70M247.85 497.70H250.65" stroke="#c82033" stroke-width="0.8" fill="none"/>
<rect x="259.75" y="477.15" width="9.40" height="12.51" fill="#12508a" stroke="#0c4478" stroke-width="0.5"/>
<path d="M264.45 489.91V490.36M263.05 490.36H265.85" stroke="#12508a" stroke-width="0.8" fill="none"/>
<rect x="272.05" y="477.15" width="9.40" height="18.55" fill="#c82033" stroke="#b81a2c" stroke-width="0.5"/>
<path d="M276.75 495.95V496.40M275.35 496.40H278.15" stroke="#c82033" stroke-width="0.8" fill="none"/>
<rect x="287.25" y="477.15" width="9.40" height="10.15" fill="#12508a" stroke="#0c4478" stroke-width="0.5"/>
<path d="M291.95 487.55V488.00M290.55 488.00H293.35" stroke="#12508a" stroke-width="0.8" fill="none"/>
<rect x="299.55" y="477.15" width="9.40" height="16.65" fill="#c82033" stroke="#b81a2c" stroke-width="0.5"/>
<path d="M304.25 494.05V494.50M302.85 494.50H305.65" stroke="#c82033" stroke-width="0.8" fill="none"/>
<path d="M242.80 553.10V555.90" stroke="#2a2a2a" stroke-width="0.9"/>
<text transform="translate(242.90,564.30) scale(0.94,1)" font-size="8.3" fill="#303030" text-anchor="middle">20</text>
<path d="M270.70 553.10V555.90" stroke="#2a2a2a" stroke-width="0.9"/>
<text transform="translate(270.80,564.30) scale(0.94,1)" font-size="8.3" fill="#303030" text-anchor="middle">35</text>
<path d="M298.60 553.10V555.90" stroke="#2a2a2a" stroke-width="0.9"/>
<text transform="translate(298.70,564.30) scale(0.94,1)" font-size="8.3" fill="#303030" text-anchor="middle">50</text>
<rect x="319.25" y="448.30" width="88.30" height="104.40" fill="#fff" stroke="#2a2a2a" stroke-width="1.2"/>
<rect x="324.90" y="477.15" width="9.40" height="35.58" fill="#12508a" stroke="#0c4478" stroke-width="0.5"/>
<path d="M329.60 512.98V513.77M328.20 513.77H331.00" stroke="#12508a" stroke-width="0.8" fill="none"/>
<rect x="337.20" y="477.15" width="9.40" height="40.90" fill="#c82033" stroke="#b81a2c" stroke-width="0.5"/>
<path d="M341.90 518.30V519.21M340.50 519.21H343.30" stroke="#c82033" stroke-width="0.8" fill="none"/>
<rect x="352.40" y="477.15" width="9.40" height="31.56" fill="#12508a" stroke="#0c4478" stroke-width="0.5"/>
<path d="M357.10 508.96V509.66M355.70 509.66H358.50" stroke="#12508a" stroke-width="0.8" fill="none"/>
<rect x="364.70" y="477.15" width="9.40" height="38.54" fill="#c82033" stroke="#b81a2c" stroke-width="0.5"/>
<path d="M369.40 515.94V516.80M368.00 516.80H370.80" stroke="#c82033" stroke-width="0.8" fill="none"/>
<rect x="379.90" y="477.15" width="9.40" height="25.88" fill="#12508a" stroke="#0c4478" stroke-width="0.5"/>
<path d="M384.60 503.28V503.86M383.20 503.86H386.00" stroke="#12508a" stroke-width="0.8" fill="none"/>
<rect x="392.20" y="477.15" width="9.40" height="33.22" fill="#c82033" stroke="#b81a2c" stroke-width="0.5"/>
<path d="M396.90 510.62V511.36M395.50 511.36H398.30" stroke="#c82033" stroke-width="0.8" fill="none"/>
<path d="M335.45 553.10V555.90" stroke="#2a2a2a" stroke-width="0.9"/>
<text transform="translate(335.55,564.30) scale(0.94,1)" font-size="8.3" fill="#303030" text-anchor="middle">20</text>
<path d="M363.35 553.10V555.90" stroke="#2a2a2a" stroke-width="0.9"/>
<text transform="translate(363.45,564.30) scale(0.94,1)" font-size="8.3" fill="#303030" text-anchor="middle">35</text>
<path d="M391.25 553.10V555.90" stroke="#2a2a2a" stroke-width="0.9"/>
<text transform="translate(391.35,564.30) scale(0.94,1)" font-size="8.3" fill="#303030" text-anchor="middle">50</text>
<rect x="411.90" y="448.30" width="88.30" height="104.40" fill="#fff" stroke="#2a2a2a" stroke-width="1.2"/>
<rect x="417.55" y="477.15" width="9.40" height="43.39" fill="#12508a" stroke="#0c4478" stroke-width="0.5"/>
<path d="M422.25 520.79V521.75M420.85 521.75H423.65" stroke="#12508a" stroke-width="0.8" fill="none"/>
<rect x="429.85" y="477.15" width="9.40" height="46.11" fill="#c82033" stroke="#b81a2c" stroke-width="0.5"/>
<path d="M434.55 523.51V524.53M433.15 524.53H435.95" stroke="#c82033" stroke-width="0.8" fill="none"/>
<rect x="445.05" y="477.15" width="9.40" height="37.24" fill="#12508a" stroke="#0c4478" stroke-width="0.5"/>
<path d="M449.75 514.64V515.47M448.35 515.47H451.15" stroke="#12508a" stroke-width="0.8" fill="none"/>
<rect x="457.35" y="477.15" width="9.40" height="44.22" fill="#c82033" stroke="#b81a2c" stroke-width="0.5"/>
<path d="M462.05 521.62V522.60M460.65 522.60H463.45" stroke="#c82033" stroke-width="0.8" fill="none"/>
<rect x="472.55" y="477.15" width="9.40" height="29.55" fill="#12508a" stroke="#0c4478" stroke-width="0.5"/>
<path d="M477.25 506.95V507.61M475.85 507.61H478.65" stroke="#12508a" stroke-width="0.8" fill="none"/>
<rect x="484.85" y="477.15" width="9.40" height="37.71" fill="#c82033" stroke="#b81a2c" stroke-width="0.5"/>
<path d="M489.55 515.11V515.95M488.15 515.95H490.95" stroke="#c82033" stroke-width="0.8" fill="none"/>
<path d="M428.10 553.10V555.90" stroke="#2a2a2a" stroke-width="0.9"/>
<text transform="translate(428.20,564.30) scale(0.94,1)" font-size="8.3" fill="#303030" text-anchor="middle">20</text>
<path d="M456.00 553.10V555.90" stroke="#2a2a2a" stroke-width="0.9"/>
<text transform="translate(456.10,564.30) scale(0.94,1)" font-size="8.3" fill="#303030" text-anchor="middle">35</text>
<path d="M483.90 553.10V555.90" stroke="#2a2a2a" stroke-width="0.9"/>
<text transform="translate(484.00,564.30) scale(0.94,1)" font-size="8.3" fill="#303030" text-anchor="middle">50</text>
<text x="270.6" y="576.70" font-size="8.5" fill="#1c1c1c" stroke="#1c1c1c" stroke-width="0.18" text-anchor="middle" textLength="45" lengthAdjust="spacingAndGlyphs">Age at exposure</text>
<text transform="translate(20.7,442.80) rotate(-90)" font-size="8.4" fill="#1c1c1c" stroke="#1c1c1c" stroke-width="0.18" text-anchor="middle" textLength="67.5" lengthAdjust="spacingAndGlyphs">Mean difference &amp; 95% CI</text>
<text x="215.6" y="590.8" font-size="7.0" fill="#1c1c1c">Gender</text>
<rect x="242.7" y="585.0" width="5.9" height="5.9" fill="#12508a"/>
<text x="251.1" y="590.8" font-size="7.0" fill="#1c1c1c">Female</text>
<rect x="278.9" y="585.0" width="5.9" height="5.9" fill="#c82033"/>
<text x="287.6" y="590.8" font-size="7.0" fill="#1c1c1c">Male</text>
<rect x="0.6" y="0.6" width="518.8" height="596.8" fill="none" stroke="#111" stroke-width="1.3"/>
</svg>
</body></html>
